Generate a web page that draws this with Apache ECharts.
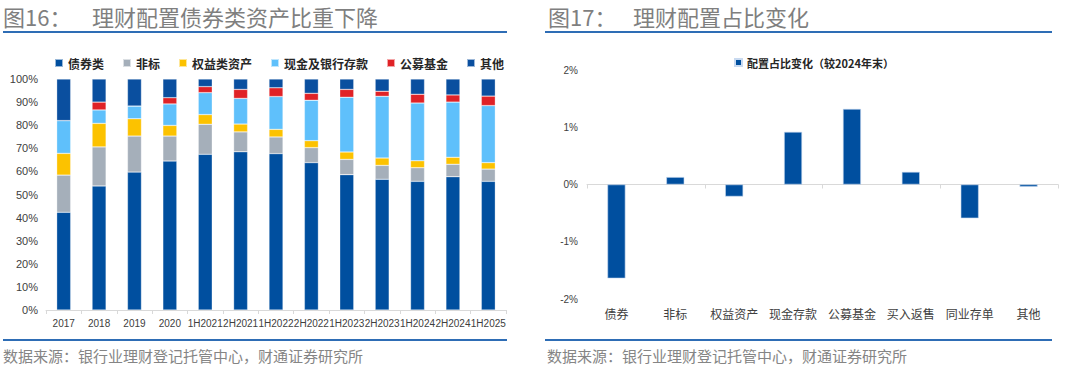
<!DOCTYPE html>
<html>
<head>
<meta charset="utf-8">
<script src="https://cdn.jsdelivr.net/npm/echarts@6/dist/echarts.min.js"></script>
<style>
html,body{margin:0;padding:0;background:#fff;}
#c{width:1080px;height:370px;}
</style>
</head>
<body>
<div id="c"></div>
<script>
// ---- Left chart data (%) ----
const categories = ['2017','2018','2019','2020','1H2021','2H2021','1H2022','2H2022','1H2023','2H2023','1H2024','2H2024','1H2025'];
const seriesNames = ['债券类','非标','权益类资产','现金及银行存款','公募基金','其他'];
const bonds  = [42.3,53.7,59.7,64.5,67.4,68.5,67.7,63.8,58.6,56.6,55.7,57.7,55.7];
const nonStd = [16.1,16.9,15.6,10.8,13.0,8.6,7.2,6.5,6.6,6.0,5.9,5.4,5.3];
const equity = [9.4,10.2,7.5,4.6,4.2,3.4,3.3,3.0,3.2,3.2,3.0,3.0,2.8];
const cash   = [14.2,5.8,5.5,9.3,9.5,11.1,14.2,17.5,23.7,26.7,25.0,23.9,24.7];
const funds  = [0,3.4,0,2.7,2.6,3.9,3.8,3.0,3.4,2.2,3.8,3.1,4.1];
const others = [18.0,10.0,11.7,8.1,3.3,4.5,3.8,6.2,4.5,5.3,6.6,6.9,7.4];

// ---- Right chart data (percentage points) ----
const changeCats = ['债券','非标','权益资产','现金存款','公募基金','买入返售','同业存单','其他'];
const changeName = '配置占比变化（较2024年末）';
const changes = [-1.64,0.13,-0.21,0.92,1.32,0.22,-0.59,-0.04];

const colors = ['#004f9f','#a5afba','#fcc200','#5fc0fb','#e02226','#0a4f9f'];
const CJK = "'Noto Sans CJK SC', sans-serif";
const NUM = "'Liberation Sans', Arial, sans-serif";

const chart = echarts.init(document.getElementById('c'), null, {renderer:'svg'});

const stackData = [bonds, nonStd, equity, cash, funds, others];
const titleFont = "22px 'Noto Sans CJK SC'";
const srcFont = "15px 'Noto Sans CJK SC'";

const option = {
  animation: false,
  graphic: [
    {type:'text', left:3, top:5, style:{text:'图16：', font:titleFont, fill:'#7f7f7f'}},
    {type:'text', left:92, top:5, style:{text:'理财配置债券类资产比重下降', font:titleFont, fill:'#7f7f7f'}},
    {type:'text', left:548, top:5, style:{text:'图17：', font:titleFont, fill:'#7f7f7f'}},
    {type:'text', left:633, top:5, style:{text:'理财配置占比变化', font:titleFont, fill:'#7f7f7f'}},
    {type:'line', shape:{x1:3,y1:32,x2:507,y2:32}, style:{stroke:'#2e6db5', lineWidth:2}},
    {type:'line', shape:{x1:545,y1:32,x2:1052,y2:32}, style:{stroke:'#2e6db5', lineWidth:2}},
    {type:'line', shape:{x1:3,y1:340,x2:507,y2:340}, style:{stroke:'#2e6db5', lineWidth:2}},
    {type:'line', shape:{x1:545,y1:340,x2:1052,y2:340}, style:{stroke:'#2e6db5', lineWidth:2}},
    {type:'text', left:3, top:348, style:{text:'数据来源：银行业理财登记托管中心，财通证券研究所', font:srcFont, fill:'#858585'}},
    {type:'text', left:547, top:348, style:{text:'数据来源：银行业理财登记托管中心，财通证券研究所', font:srcFont, fill:'#858585'}}
  ],
  legend: [
    {
      data: seriesNames, left:49, top:52, icon:'rect', itemWidth:8, itemHeight:8, itemGap:18,
      textStyle:{fontFamily:CJK, fontSize:12, fontWeight:'bold', color:'#262626'}
    },
    {
      data: [changeName], left:729, top:52, icon:'rect', itemWidth:7, itemHeight:7, itemGap:4,
      textStyle:{fontFamily:CJK, fontSize:11, fontWeight:'bold', color:'#262626'}
    }
  ],
  grid: [
    {left:46, right:574, top:79, bottom:60},
    {left:587, right:22, top:70, bottom:71}
  ],
  xAxis: [
    {
      gridIndex:0, type:'category', data:categories,
      axisLine:{lineStyle:{color:'#d9d9d9'}},
      axisTick:{show:true, length:4, lineStyle:{color:'#d9d9d9'}},
      axisLabel:{interval:0, margin:8, fontFamily:NUM, fontSize:10, color:'#404040'}
    },
    {
      gridIndex:1, type:'category', data:changeCats,
      axisLine:{onZero:true, lineStyle:{color:'#d9d9d9'}},
      axisTick:{show:true, length:4, lineStyle:{color:'#d9d9d9'}},
      axisLabel:{show:false}
    },
    {
      gridIndex:1, type:'category', data:changeCats, position:'bottom',
      axisLine:{show:false, onZero:false}, axisTick:{show:false},
      axisLabel:{interval:0, margin:8, fontFamily:CJK, fontSize:12, color:'#404040'}
    }
  ],
  yAxis: [
    {
      gridIndex:0, type:'value', min:0, max:100, interval:10,
      axisLine:{show:false}, axisTick:{show:false}, splitLine:{show:false},
      axisLabel:{formatter:'{value}%', margin:8, fontFamily:NUM, fontSize:11, color:'#404040'}
    },
    {
      gridIndex:1, type:'value', min:-2, max:2, interval:1,
      axisLine:{show:false}, axisTick:{show:false}, splitLine:{show:false},
      axisLabel:{formatter:'{value}%', margin:9, fontFamily:NUM, fontSize:10, color:'#404040'}
    }
  ],
  series: seriesNames.map((n,i)=>({
    name:n, type:'bar', stack:'a', xAxisIndex:0, yAxisIndex:0,
    data: stackData[i], barWidth:14,
    itemStyle:{color:colors[i], borderColor:'rgba(255,255,255,0.6)', borderWidth:0.5}
  })).concat([{
    name:changeName, type:'bar', xAxisIndex:1, yAxisIndex:1,
    data: changes, barWidth:18,
    itemStyle:{color:'#004f9f', borderColor:'#c9daf0', borderWidth:0.6}
  }])
};
chart.setOption(option);
</script>
</body>
</html>
